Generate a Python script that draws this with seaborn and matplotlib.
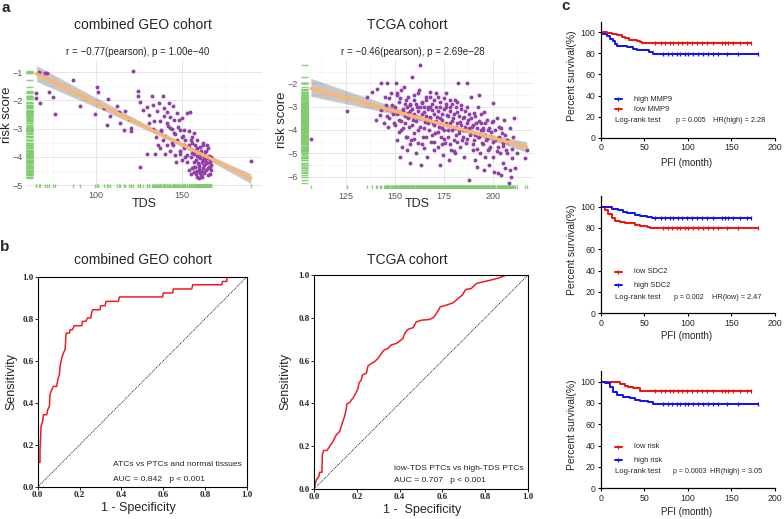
import numpy as np
import matplotlib
matplotlib.use("Agg")
import matplotlib.pyplot as plt
from matplotlib.ticker import FixedLocator
import seaborn as sns

# ------------------------------------------------------------------ data
geo_tds = [67.1, 70.5, 71.5, 65.3, 65.3, 67.2, 72.5, 75, 76.4, 86.6, 90.9, 99.2, 100.6, 101, 104.5, 107,
           106.6, 108.3, 112.2, 113.1, 114.1, 116, 117, 121.5, 119, 120.6, 120.6, 124.2, 124.4, 125.8,
           125.8, 127.3, 129.6, 129.6, 130.6, 132.6, 133.1, 133.5, 134.5, 134.5, 135.4, 136.4, 137.4,
           137.8, 138.9, 139.3, 139.7, 140.3, 141.3, 141.3, 142.2, 142.8, 143.2, 144.2, 144.8, 145.2,
           145.5, 146.1, 146.7, 147.1, 147.5, 148.6, 149, 150, 150.6, 151, 151.4, 152, 152.9, 153.9,
           154.8, 155.2, 155.8, 156.8, 157.2, 157.8, 158.3, 158.7, 159.1, 159.7, 159.7, 160.3, 160.7,
           160.7, 161, 161.6, 161.6, 162.2, 162.6, 162.6, 163, 163.6, 164.1, 164.5, 164.5, 164.9, 165.5,
           166.1, 166.5, 166.9, 155.8, 150, 152.9, 153.9, 156.8, 158.7, 157.8, 160.7, 163.6, 165.5, 190.1,
           151, 152, 153, 154, 155, 156, 156, 157, 158, 158, 159, 159, 160, 160, 161, 161, 162, 162, 163,
           163, 164, 164, 165, 165, 166, 166, 167, 161, 163, 160, 159, 162, 157, 155, 165, 167, 145, 147,
           149, 143, 141, 139, 137, 135, 133, 131, 144, 146, 148, 150, 138, 142, 140, 136]
geo_risk = [-1.0, -1.04, -1.04, -1.75, -1.92, -2.1, -1.7, -1.9, -2.5, -1.3, -2.22, -2.48, -1.53, -1.72,
            -2.28, -1.95, -2.89, -2.57, -2.22, -2.4, -2.81, -3.05, -2.37, -0.96, -2.67, -2.99, -3.08,
            -1.69, -1.86, -2.06, -4.38, -2.34, -2.24, -3.9, -2.51, -1.86, -2.16, -2.75, -3.1, -3.9, -2.37,
            -2.1, -2.75, -3.05, -1.86, -2.57, -2.28, -3.28, -2.4, -2.81, -2.1, -2.6, -2.99, -3.52, -2.22,
            -2.69, -3.17, -3.93, -4.2, -2.46, -2.93, -3.81, -3.05, -2.63, -3.28, -3.05, -3.58, -4.02,
            -2.46, -3.1, -2.4, -3.4, -3.88, -4.17, -3.17, -3.58, -3.76, -3.99, -4.23, -4.35, -4.47, -3.64,
            -4.05, -4.59, -3.78, -4.17, -4.7, -4.41, -3.93, -4.29, -4.59, -4.11, -4.47, -3.58, -4.23,
            -4.64, -3.99, -4.35, -4.11, -4.47, -3.52, -4.11, -3.93, -4.47, -4.53, -4.7, -4.35, -3.88,
            -3.82, -4.35, -4.14,
            -3.7, -3.4, -4.2, -3.6, -4.0, -3.3, -4.4, -3.9, -4.1, -4.6, -3.7, -4.5, -4.0, -4.3, -3.9,
            -4.5, -4.1, -3.6, -4.3, -4.0, -3.8, -4.2, -4.4, -3.7, -4.2, -4.6, -4.0, -4.65, -4.55, -4.75,
            -3.4, -3.5, -4.35, -4.6, -4.05, -4.3, -3.6, -3.4, -3.9, -3.8, -3.6, -3.4, -3.7, -3.3, -3.0,
            -2.8, -3.0, -3.2, -2.7, -3.3, -3.1, -2.9, -3.9, -3.6]

tcga_tds = [107.2, 125.8, 136, 138.5, 141.1, 142.8, 143.2, 140.2, 142.4, 145.3, 145.8, 146.2, 146.5, 144.5,
            147, 147.9, 148.7, 149.5, 150.4, 150.9, 151.2, 152.1, 152.6, 152.9, 153.3, 153.8, 154.3,
            154.6, 155, 155.5, 155.8, 156.3, 156.7, 157.2, 157.7, 158, 158.4, 158.9, 159.4, 159.7, 160,
            160.6, 161.1, 161.4, 161.7, 162.2, 162.7, 163.1, 163.4, 163.9, 164.4, 164.8, 165.1, 165.6,
            166.1, 166.5, 166.8, 167.3, 167.8, 168.2, 168.5, 169, 169.5, 169.9, 170.2, 170.7, 171.2,
            171.6, 172.1, 172.4, 172.9, 173.2, 173.6, 174.1, 174.6, 174.9, 175.3, 175.8, 176.3, 176.6,
            177.1, 177.5, 178, 178.3, 178.7, 179.2, 179.7, 180, 180.5, 180.9, 181.4, 181.7, 182.1, 182.6,
            183.1, 183.4, 183.9, 184.3, 184.8, 185.1, 185.4, 185.9, 186.5, 186.8, 187.1, 187.6, 188.1,
            188.5, 189, 189.3, 189.8, 190.2, 190.5, 191, 191.5, 191.9, 192.2, 192.7, 193.2, 193.6, 193.9,
            194.4, 194.9, 195.3, 195.6, 196.1, 196.6, 197, 197.3, 197.8, 198.3, 198.6, 199, 199.5, 200,
            200.3, 200.7, 201.2, 202, 202.4, 202.9, 203.4, 203.7, 204.1, 204.6, 205.1, 205.4, 205.8,
            206.3, 206.8, 207.4, 208.5, 209.1, 210.5, 211, 211.3, 212.2, 216.4, 217.3, 208.8, 209.7,
            150, 151, 152, 153, 154, 155, 155, 156, 157, 157, 158, 158, 159, 159, 160, 160, 161, 161, 162,
            162, 163, 163, 164, 164, 165, 165, 166, 166, 167, 167, 168, 168, 169, 169, 170, 170, 171, 171,
            172, 172, 173, 173, 174, 174, 175, 175, 176, 176, 177, 177, 178, 178, 179, 179, 180, 180, 181,
            181, 182, 182, 183, 183, 184, 184, 185, 185, 186, 186, 187, 187, 188, 188, 189, 189, 190, 190,
            191, 191, 192, 192, 193, 193, 194, 194, 195, 195, 196, 196, 197, 198, 198, 199, 200, 200, 201,
            202, 203, 204, 205, 206, 207, 208, 209, 210, 145, 146, 147, 148, 149, 150, 151, 152, 153, 154,
            156, 158, 160, 162, 164, 166, 168, 170, 172, 174, 176, 178, 180, 182]
tcga_risk = [-4.39, -3.19, -2.57, -2.36, -2.26, -2.0, -3.14, -3.57, -3.36, -2.93, -3.4, -2.0, -3.86, -3.71,
             -2.64, -3.14, -2.93, -3.71, -2.0, -2.43, -4.43, -3.57, -5.14, -2.64, -4.0, -4.71, -3.14,
             -2.14, -3.71, -2.71, -4.29, -4.86, -3.29, -3.86, -2.93, -5.43, -4.43, -1.71, -3.57, -2.5,
             -4.14, -5.0, -3.0, -3.43, -4.57, -2.29, -1.21, -3.86, -5.5, -2.86, -4.29, -3.21, -4.79, -3.64,
             -2.57, -5.14, -3.0, -4.0, -3.43, -2.36, -4.5, -3.14, -3.71, -4.86, -2.71, -4.14, -2.43, -3.43,
             -4.71, -3.86, -5.5, -3.0, -4.29, -3.57, -5.07, -2.64, -4.0, -4.57, -2.43, -3.36, -4.29, -5.29,
             -3.71, -3.0, -4.86, -4.0, -3.5, -4.43, -2.71, -5.0, -3.86, -3.21, -1.97, -4.14, -4.71, -3.64,
             -2.93, -4.43, -4.0, -5.14, -3.43, -3.86, -4.57, -1.97, -3.0, -3.57, -6.14, -4.21, -2.57, -3.86,
             -4.86, -3.29, -4.43, -5.29, -3.71, -5.57, -3.0, -4.29, -2.5, -5.0, -3.71, -4.57, -4.0, -5.71,
             -3.21, -5.14, -4.43, -3.57, -4.86, -4.0, -5.5, -4.71, -4.29, -3.64, -2.86, -5.14, -5.79, -4.43,
             -3.5, -4.71, -5.86, -3.86, -5.0, -5.93, -4.14, -5.43, -4.57, -3.57, -5.64, -4.86, -4.43, -6.29,
             -6.0, -4.29, -3.5, -5.64, -5.0, -5.21, -4.86, -5.71, -5.21,
             -3.0, -3.3, -2.8, -3.6, -3.1, -2.9, -3.4, -3.0, -2.6, -3.5, -3.2, -2.9, -3.8, -3.1, -2.7, -3.3,
             -3.6, -2.9, -3.2, -4.0, -3.0, -3.5, -2.8, -3.3, -3.9, -3.0, -3.4, -2.7, -3.1, -3.7, -3.0, -3.5,
             -2.9, -4.2, -3.3, -3.8, -3.0, -3.6, -3.2, -4.1, -3.5, -2.8, -3.9, -3.3, -3.1, -4.4, -3.7, -3.0,
             -3.4, -4.0, -3.2, -4.6, -3.6, -2.9, -3.9, -3.3, -4.2, -3.0, -3.7, -4.5, -3.4, -4.0, -3.1, -3.8,
             -4.3, -3.5, -3.2, -4.0, -3.7, -4.4, -3.3, -3.9, -4.1, -3.5, -3.8, -4.6, -3.4, -4.2, -3.9, -4.8,
             -3.6, -4.3, -4.0, -3.3, -4.6, -3.9, -4.2, -3.7, -4.4, -3.9, -4.8, -4.1, -3.6, -4.5, -4.0, -4.9,
             -4.3, -3.9, -4.7, -4.2, -5.0, -4.5, -3.9, -4.8, -2.6, -3.1, -3.5, -2.4, -3.3, -3.8, -2.5, -4.1,
             -2.3, -3.9, -4.3, -4.6, -4.4, -2.4, -4.6, -4.3, -2.6, -4.5, -2.6, -4.6, -2.9, -2.7, -4.9, -2.8]

roc_geo_fpr = [0, 0, 0.011, 0.011, 0.016, 0.024, 0.027, 0.043, 0.048, 0.056, 0.059, 0.067, 0.075, 0.091,
               0.096, 0.104, 0.107, 0.115, 0.123, 0.131, 0.136, 0.152, 0.155, 0.167, 0.174, 0.211, 0.215,
               0.231, 0.238, 0.254, 0.258, 0.263, 0.298, 0.301, 0.322, 0.327, 0.386, 0.391, 0.598, 0.601,
               0.646, 0.649, 0.737, 0.742, 0.880, 0.885, 0.905, 0.905, 1.0]
roc_geo_tpr = [0, 0.117, 0.117, 0.17, 0.29, 0.313, 0.344, 0.344, 0.368, 0.384, 0.44, 0.463, 0.479, 0.479,
               0.511, 0.535, 0.575, 0.614, 0.638, 0.654, 0.733, 0.733, 0.749, 0.749, 0.768, 0.768, 0.789,
               0.789, 0.805, 0.805, 0.829, 0.844, 0.844, 0.863, 0.863, 0.884, 0.884, 0.905, 0.905, 0.924,
               0.924, 0.943, 0.943, 0.963, 0.963, 0.979, 0.979, 1.0, 1.0]
roc_tcga_fpr = [0, 0.011, 0.023, 0.026, 0.037, 0.039, 0.045, 0.061, 0.073, 0.089, 0.104, 0.12, 0.132, 0.143,
                0.148, 0.154, 0.167, 0.174, 0.182, 0.195, 0.206, 0.21, 0.221, 0.226, 0.245, 0.252, 0.268,
                0.283, 0.299, 0.315, 0.327, 0.346, 0.361, 0.385, 0.4, 0.416, 0.424, 0.439, 0.463, 0.478,
                0.502, 0.54, 0.559, 0.572, 0.59, 0.618, 0.65, 0.673, 0.693, 0.709, 0.735, 0.759, 0.79,
                0.821, 0.86, 0.9, 1.0]
roc_tcga_tpr = [0, 0.043, 0.059, 0.078, 0.078, 0.16, 0.18, 0.18, 0.199, 0.222, 0.253, 0.269, 0.308, 0.339,
                0.362, 0.398, 0.404, 0.416, 0.424, 0.447, 0.471, 0.494, 0.51, 0.533, 0.541, 0.575, 0.587,
                0.595, 0.61, 0.634, 0.649, 0.657, 0.673, 0.68, 0.691, 0.704, 0.727, 0.746, 0.754, 0.781,
                0.789, 0.792, 0.802, 0.82, 0.851, 0.859, 0.87, 0.89, 0.906, 0.932, 0.937, 0.96, 0.968,
                0.975, 0.985, 1.0, 1.0]

# Kaplan-Meier step curves (time in months, survival in %)
km1_high_t = [0, 3, 6.9, 10.7, 13.8, 16.4, 19.1, 26, 30.6, 37.5, 41.3, 55.8, 60.4, 181]
km1_high_s = [100, 98.4, 96.2, 93.7, 91.5, 89, 87.4, 86.8, 85.8, 84.3, 82.7, 81.1, 79.8, 79.8]
km1_low_t = [0, 6.9, 12.6, 18.4, 24.1, 27.9, 32.9, 41.3, 45.1, 47, 172]
km1_low_s = [100, 99.4, 98.4, 97.5, 95.9, 94.7, 92.8, 92.1, 90.6, 89.6, 89.6]
km2_low_t = [0, 5, 8.8, 12.6, 16.4, 22.2, 27.9, 32.9, 39.4, 45.1, 53.5, 56.6, 181]
km2_low_s = [100, 96.9, 93.1, 89, 86.9, 85.9, 85, 84.4, 82.8, 81.9, 81.3, 79.7, 79.7]
km2_high_t = [0, 6.9, 12.6, 20.3, 26, 30.6, 39.4, 45.1, 52.8, 58.5, 172]
km2_high_s = [100, 99.4, 97.8, 96.9, 95.3, 93.8, 92.2, 91.3, 90.6, 89, 89]
km3_low_t = [0, 14.5, 22.2, 27.9, 31.7, 37.5, 45.1, 172]
km3_low_s = [100, 99.4, 97.5, 96.2, 94.7, 93.8, 91.25, 91.25]
km3_high_t = [0, 5, 10.7, 14.5, 18.4, 26, 33.6, 39.4, 45.1, 54.7, 60.4, 181]
km3_high_s = [100, 98.4, 95.3, 90.6, 87.5, 85.9, 84.4, 82.8, 81.9, 81.25, 78.75, 78.75]
cens_red = [62, 69, 74, 79, 83, 89, 93, 99, 104.6, 110, 116, 122, 129, 139, 142.6, 146.5, 152, 160, 167.6, 172]
cens_blue = [72, 77.6, 81.5, 87, 91, 96.7, 100.6, 106, 112, 117.8, 123.5, 129, 135, 144.6, 158, 181]

km_xticks = [0, 50, 100, 150, 200]
km_yticks = [0, 20, 40, 60, 80, 100]
roc_ticks = [0.0, 0.2, 0.4, 0.6, 0.8, 1.0]

# ------------------------------------------------------------------ style
sns.set_theme(style="white")
SANS = ["Liberation Sans", "DejaVu Sans"]
plt.rcParams["font.family"] = SANS
plt.rcParams["axes.unicode_minus"] = True

W, H = 784, 519
fig = plt.figure(figsize=(W / 100, H / 100), dpi=100)
fig.patch.set_facecolor("white")


def axpx(l, t, r, b):
    return fig.add_axes([l / W, 1 - b / H, (r - l) / W, (b - t) / H])


def ftxt(x, y, s, **kw):
    kw.setdefault("ha", "center")
    kw.setdefault("va", "center")
    fig.text(x / W, 1 - y / H, s, **kw)


PURPLE = "#933fa9"
GREEN = "#7fcb6e"
ORANGE = "#fdb46e"


def scatter_panel(ax, x, y, xlim, ylim, xt, yt, xminor, yminor):
    ax.set_facecolor("white")
    sns.regplot(x=np.array(x), y=np.array(y), ax=ax, scatter=False, color="black",
                line_kws={"lw": 0}, ci=95, n_boot=300, seed=1)
    ax.collections[-1].set_alpha(0.22)
    sns.scatterplot(x=x, y=y, ax=ax, color=PURPLE, s=8, linewidth=0, zorder=3)
    sns.regplot(x=np.array(x), y=np.array(y), ax=ax, scatter=False, ci=None,
                line_kws={"color": ORANGE, "lw": 2.3, "zorder": 4})
    sns.rugplot(x=x, y=y, ax=ax, height=0.03, color=GREEN, lw=0.7, alpha=0.9)
    ax.set_xlim(*xlim)
    ax.set_ylim(*ylim)
    ax.xaxis.set_major_locator(FixedLocator(xt))
    ax.yaxis.set_major_locator(FixedLocator(yt))
    ax.xaxis.set_minor_locator(FixedLocator(xminor))
    ax.yaxis.set_minor_locator(FixedLocator(yminor))
    ax.grid(True, which="major", color="#e6e6e6", lw=0.7)
    ax.grid(True, which="minor", color="#f0f0f0", lw=0.4)
    ax.set_axisbelow(True)
    for s in ax.spines.values():
        s.set_visible(False)
    ax.tick_params(which="both", length=0, labelsize=6.5, labelcolor="#555555", pad=2)
    ax.set_xlabel("")
    ax.set_ylabel("")


# ---------------------------------------------------------------- panel a
ax1 = axpx(26, 60, 262, 188)
scatter_panel(ax1, geo_tds, geo_risk, (59.3, 196.5), (-5.106, -0.575),
              [100, 150], [-5, -4, -3, -2, -1], [75, 125, 175], [-4.5, -3.5, -2.5, -1.5])
ax2 = axpx(301, 59, 533, 189)
scatter_panel(ax2, tcga_tds, tcga_risk, (102.2, 220.5), (-6.53, -0.957),
              [125, 150, 175, 200], [-6, -5, -4, -3, -2], [112.5, 137.5, 162.5, 187.5, 212.5],
              [-5.5, -4.5, -3.5, -2.5, -1.5])

ftxt(6, 8, "a", fontsize=11, fontweight="bold")
ftxt(143, 25, "combined GEO cohort", fontsize=10)
ftxt(138, 52, "r = \u22120.77(pearson), p = 1.00e\u221240", fontsize=7)
ftxt(407, 25, "TCGA cohort", fontsize=10)
ftxt(413, 52, "r = \u22120.46(pearson), p = 2.69e\u221228", fontsize=7)
ftxt(7, 115, "risk score", fontsize=9.5, rotation=90)
ftxt(282, 120, "risk score", fontsize=9.5, rotation=90)
ftxt(144, 204, "TDS", fontsize=9)
ftxt(417, 204, "TDS", fontsize=9)

# ---------------------------------------------------------------- panel b
RED = "#ee1c25"


def roc_panel(ax, fpr, tpr, txt1, txt2, tx, ty1, ty2):
    sns.lineplot(x=fpr, y=tpr, ax=ax, color=RED, lw=1.1, estimator=None, sort=False)
    ax.axline((0, 0), slope=1, color="black", lw=0.6, ls=(0, (1.2, 1.2)))
    ax.set_xlim(0, 1)
    ax.set_ylim(0, 1)
    for s in ax.spines.values():
        s.set_visible(True)
        s.set_color("black")
        s.set_linewidth(0.8)
    lab = ["%.1f" % v for v in roc_ticks]
    ax.set_xticks(roc_ticks, labels=lab, fontfamily="Liberation Serif", fontweight="bold", fontsize=6.5)
    ax.set_yticks(roc_ticks, labels=lab, fontfamily="Liberation Serif", fontweight="bold", fontsize=6.5)
    ax.tick_params(which="major", length=2, width=0.6, direction="out", pad=1,
                   bottom=True, left=True, color="black")
    ax.set_xlabel("")
    ax.set_ylabel("")
    ax.text(tx, ty1, txt1, fontsize=6.1, family=SANS, transform=ax.transAxes, va="center")
    ax.text(tx, ty2, txt2, fontsize=6.1, family=SANS, transform=ax.transAxes, va="center")


ax3 = axpx(37.7, 277, 246.7, 487)
roc_panel(ax3, roc_geo_fpr, roc_geo_tpr, "ATCs vs PTCs and normal tissues",
          "AUC = 0.842   p < 0.001", 0.362, 0.105, 0.038)
ax4 = axpx(314, 275, 528, 489)
roc_panel(ax4, roc_tcga_fpr, roc_tcga_tpr, "low-TDS PTCs vs high-TDS PTCs",
          "AUC = 0.707   p < 0.001", 0.374, 0.097, 0.039)

ftxt(5, 247, "b", fontsize=11, fontweight="bold")
ftxt(143, 260, "combined GEO cohort", fontsize=10)
ftxt(407, 260, "TCGA cohort", fontsize=10)
ftxt(11, 382, "Sensitivity", fontsize=9, rotation=90)
ftxt(285, 382, "Sensitivity", fontsize=9, rotation=90)
ftxt(138, 508, "1 - Specificity", fontsize=9)
ftxt(422, 510, "1 -  Specificity", fontsize=9)

# ---------------------------------------------------------------- panel c
BLUE = "#1010f0"
KRED = "#f01010"


def km_curve(ax, t, s, cens, color):
    sns.lineplot(x=t, y=s, ax=ax, color=color, lw=1.4, drawstyle="steps-post",
                 estimator=None, sort=False)
    t_arr = np.asarray(t)
    s_arr = np.asarray(s)
    c = np.asarray([v for v in cens if v <= t_arr[-1]])
    idx = np.searchsorted(t_arr, c, side="right") - 1
    ax.plot(c, s_arr[idx], ls="none", marker="|", ms=3.4, mew=0.9, color=color)


def km_panel(ax, curves, legend, ly, lr_y, p_txt, p_end, hr_txt, hr_x):
    for t, s, cens, col in curves:
        km_curve(ax, t, s, cens, col)
    ax.set_xlim(0, 200)
    ax.set_ylim(0, 110)
    ax.set_xticks(km_xticks)
    ax.set_yticks(km_yticks)
    for side in ("top", "right"):
        ax.spines[side].set_visible(False)
    for side in ("left", "bottom"):
        ax.spines[side].set_color("black")
        ax.spines[side].set_linewidth(0.9)
    ax.tick_params(length=2.5, width=0.8, direction="out", labelsize=6.3, pad=1.5,
                   bottom=True, left=True, color="black")
    ax.set_xlabel("")
    ax.set_ylabel("")
    for (lab, col), yv in zip(legend, ly):
        ax.plot([16.4, 24], [yv, yv], color=col, lw=1.4)
        ax.plot([20.2], [yv], marker="|", ms=3.4, mew=0.9, color=col)
        ax.text(38.6, yv, lab, fontsize=5.4, va="center")
    ax.text(16.4, lr_y, "Log-rank test", fontsize=5.6, va="center")
    ax.text(p_end, lr_y, p_txt, fontsize=5.0, va="center", ha="right")
    ax.text(hr_x, lr_y, hr_txt, fontsize=5.3, va="center")


ax5 = axpx(600.7, 21.7, 775, 137.7)
km_panel(ax5, [(km1_high_t, km1_high_s, cens_blue, BLUE), (km1_low_t, km1_low_s, cens_red, KRED)],
         [("high MMP9", BLUE), ("low MMP9", KRED)], [36.5, 27.1], 16.7,
         "p = 0.005", 120.8, "HR(high) = 2.28", 128.9)
ax6 = axpx(600.7, 196, 775, 313.3)
km_panel(ax6, [(km2_low_t, km2_low_s, cens_blue, KRED), (km2_high_t, km2_high_s, cens_red, BLUE)],
         [("low SDC2", KRED), ("high SDC2", BLUE)], [39, 26.5], 15,
         "p = 0.002", 118.3, "HR(low) = 2.47", 128)
ax7 = axpx(600.7, 371, 775, 488.3)
km_panel(ax7, [(km3_low_t, km3_low_s, cens_red, KRED), (km3_high_t, km3_high_s, cens_blue, BLUE)],
         [("low risk", KRED), ("high risk", BLUE)], [39, 26.5], 15.6,
         "p = 0.0003", 121.6, "HR(high) = 3.05", 125.8)

ftxt(566, 6, "c", fontsize=11, fontweight="bold")
for yc in (75.5, 250, 425):
    ftxt(572, yc, "Percent survival(%)", fontsize=7.5, rotation=90)
for yc in (163, 336, 512):
    ftxt(687, yc, "PFI (month)", fontsize=7)

fig.savefig("out.png", dpi=100, facecolor="white")
